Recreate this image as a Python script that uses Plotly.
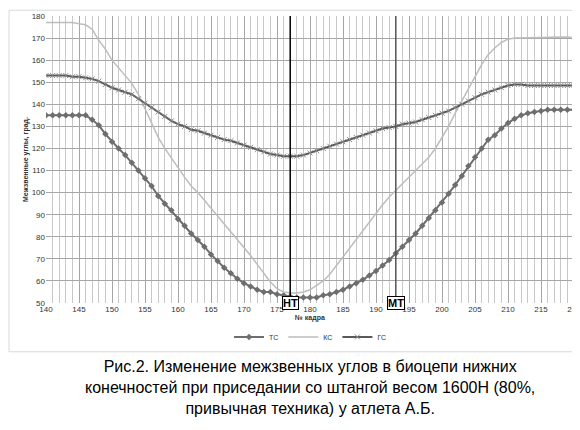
import plotly.graph_objects as go

frames = list(range(140, 221))

ts = [135, 135, 135, 135, 135, 135, 135, 133, 130.5, 126.5,
      123, 120, 117, 113.5, 110, 106.5, 103, 98.5, 95, 92,
      88, 85, 81.5, 78.5, 75.5, 72, 69, 66, 63.5, 61,
      59, 57.5, 56, 55, 55, 54, 53.5, 53, 52.5, 52.5,
      52.5, 52.5, 53.5, 54, 55, 56, 57.5, 59, 60.5, 62.5,
      64.5, 67, 69.5, 72.5, 75.5, 78.5, 81.5, 85, 88.5, 92,
      95.5, 99.5, 103.5, 107.5, 112, 116, 120, 124, 126, 129,
      131.5, 133.5, 135, 136, 136.5, 137, 137.5, 137.5, 137.5, 137.5, 137.5]

ks = [177, 177, 177, 177, 177, 176.5, 176, 174, 169, 165,
      160, 156.5, 153, 149.5, 144.5, 138, 131, 125, 120, 115.5,
      111, 107, 103, 100, 96.5, 93, 89, 85.5, 82, 78.5,
      75, 71.5, 67.5, 63.5, 59.5, 56.5, 55, 54.5, 54.5, 55,
      56, 58, 60, 63, 67, 71, 75, 79, 83, 87,
      91, 94.5, 98, 101, 104, 107, 110, 113, 116, 120,
      125, 130, 136, 141.5, 147, 153, 158, 162.5, 165.5, 168,
      169.5, 170, 170, 170, 170.2, 170.3, 170.4, 170.5, 170.5, 170.5, 170.2]

gs = [153, 153, 153, 153, 152.5, 152.5, 152, 151.5, 150.5, 149,
      147.5, 146.5, 145.5, 144.5, 142.5, 140.5, 138.5, 136.5, 134.5, 132.5,
      131, 130, 128.5, 128, 127, 126, 125, 124, 123.5, 122.5,
      121.5, 120.5, 119.5, 118.5, 117.5, 117, 116.5, 116.5, 116.5, 117,
      118, 119, 120, 121, 122, 123, 124, 125, 126, 127,
      128, 129, 129.5, 130, 131, 131.5, 132, 133, 134, 135,
      136, 137, 138.5, 140, 141.5, 143, 144.5, 145.5, 146.5, 147.5,
      148.5, 149, 149, 148.5, 148.5, 148.5, 148.5, 148.5, 148.5, 148.5, 148.5]

phase_x = [177, 193]
phase_names = ["НТ", "МТ"]

caption = ("Рис.2. Изменение межзвенных углов в биоцепи нижних<br>"
           "конечностей при приседании со штангой весом 1600Н (80%,<br>"
           "привычная техника) у атлета А.Б.")

fig = go.Figure()
fig.add_trace(go.Scatter(x=frames, y=ts, name="ТС", mode="lines+markers",
                         line=dict(color="#6e6e6e", width=2),
                         marker=dict(symbol="diamond", size=5, color="#6e6e6e")))
fig.add_trace(go.Scatter(x=frames, y=ks, name="КС", mode="lines",
                         line=dict(color="#bdbdbd", width=1.5)))
fig.add_trace(go.Scatter(x=frames, y=gs, name="ГС", mode="lines+markers",
                         line=dict(color="#595959", width=2),
                         marker=dict(symbol="x-thin", size=5, line=dict(color="#8a8a8a", width=1))))

for px, nm, col in zip(phase_x, phase_names, ["#000000", "#555555"]):
    fig.add_vline(x=px, line=dict(color=col, width=1.5))
    fig.add_annotation(x=px, y=50, yref="y", text="<b>" + nm + "</b>", showarrow=False,
                       yanchor="middle", font=dict(size=11, color="black"),
                       bgcolor="white", bordercolor="black", borderwidth=1, borderpad=0)

fig.add_annotation(x=0.5, y=-0.185, xref="paper", yref="paper", text=caption, showarrow=False,
                   align="center", yanchor="top", font=dict(size=16, color="black"))
fig.add_shape(type="rect", xref="paper", yref="paper", x0=-0.07, x1=1.02, y0=-0.17, y1=1.02,
              line=dict(color="#d9d9d9", width=1))

fig.update_layout(
    width=580, height=430,
    margin=dict(l=38, r=14, t=8, b=135),
    plot_bgcolor="white", paper_bgcolor="white",
    font=dict(family="Liberation Sans, Arial", size=8, color="#333"),
    showlegend=True,
    legend=dict(orientation="h", x=0.5, xanchor="center", yref="container", y=0.235, yanchor="middle",
                font=dict(size=7)),
    xaxis=dict(range=[140, 220], dtick=5, showgrid=True, gridcolor="#a6a6a6", automargin=False,
               minor=dict(dtick=1, showgrid=True, gridcolor="#c8c8c8"),
               zeroline=False, ticks="", title=dict(text="<b>№ кадра</b>", standoff=2, font=dict(size=7))),
    yaxis=dict(range=[50, 180], dtick=10, showgrid=True, gridcolor="#a6a6a6", automargin=False,
               zeroline=False, title=dict(text="<b>Межзвенные углы, град.</b>", standoff=2, font=dict(size=7))),
)

fig.write_html("out.html")
